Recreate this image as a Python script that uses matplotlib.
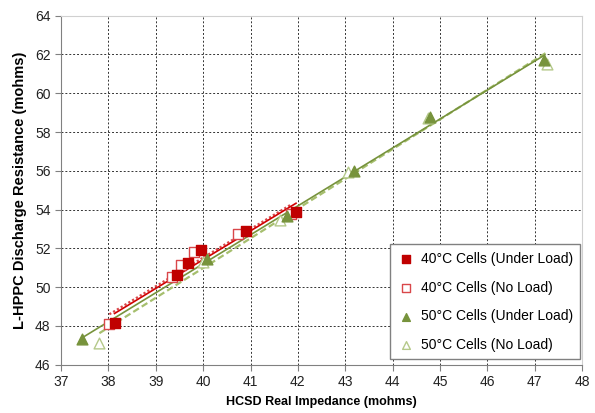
import numpy as np
import matplotlib.pyplot as plt

plt.rcParams['font.family'] = ['Liberation Sans', 'DejaVu Sans']

# 40C cells
x40_load = [38.13, 39.45, 39.68, 39.95, 40.91, 41.96]
y40_load = [48.14, 50.61, 51.23, 51.90, 52.88, 53.86]
x40_noload = [38.02, 39.35, 39.54, 39.80, 40.74, 41.86]
y40_noload = [48.09, 50.53, 51.13, 51.81, 52.76, 53.79]
# 50C cells
x50_load = [37.44, 40.08, 41.78, 43.19, 44.79, 47.20]
y50_load = [47.30, 51.44, 53.65, 55.99, 58.77, 61.70]
x50_noload = [37.81, 40.00, 41.62, 43.05, 44.74, 47.25]
y50_noload = [47.14, 51.30, 53.45, 55.94, 58.74, 61.53]

labels = ['40°C Cells (Under Load)', '40°C Cells (No Load)',
          '50°C Cells (Under Load)', '50°C Cells (No Load)']

fig = plt.figure(figsize=(5.95, 4.13), dpi=100)
ax = fig.add_axes([0.1025, 0.117, 0.876, 0.845])

def trend(x, y, **kw):
    x = np.array(x); y = np.array(y)
    m, b = np.polyfit(x, y, 1)
    xs = np.array([x.min(), x.max()])
    ax.plot(xs, m * xs + b, zorder=2, **kw)

trend(x40_noload, y40_noload, color='#D9474A', lw=1.6, ls=(0, (1, 1)))
trend(x40_load, y40_load, color='#D00000', lw=1.2)
trend(x50_noload, y50_noload, color='#A6BF6E', lw=1.6, ls=(0, (3, 1.5)))
trend(x50_load, y50_load, color='#77933C', lw=1.2)

ax.scatter(x40_noload, y40_noload, marker='s', s=55, facecolor='white',
           edgecolor='#D9474A', lw=1, label=labels[1], zorder=3)
ax.scatter(x40_load, y40_load, marker='s', s=55, color='#C00000',
           label=labels[0], zorder=4)
ax.scatter(x50_noload, y50_noload, marker='^', s=60, facecolor='white',
           edgecolor='#B5C98A', lw=1, label=labels[3], zorder=3)
ax.scatter(x50_load, y50_load, marker='^', s=60, color='#77933C',
           label=labels[2], zorder=4)

ax.set_xlim(37, 48)
ax.set_ylim(46, 64)
ax.set_xticks(np.arange(37, 49, 1))
ax.set_yticks(np.arange(46, 65, 2))
ax.grid(True, color='#333333', ls=(0, (2, 2)), lw=0.7)
ax.set_axisbelow(True)
for s in ['top', 'right']:
    ax.spines[s].set_color('#D0D0D0')
for s in ['left', 'bottom']:
    ax.spines[s].set_color('#808080')
ax.tick_params(direction='out', length=4, labelsize=10, color='#808080',
               labelcolor='#222222')

ax.set_xlabel('HCSD Real Impedance (mohms)', fontsize=9, fontweight='bold',
              labelpad=5)
ax.set_ylabel('L-HPPC Discharge Resistance (mohms)', fontsize=10.5,
              fontweight='bold', labelpad=6)

h, l = ax.get_legend_handles_labels()
order = [l.index(t) for t in labels]
leg = ax.legend([h[i] for i in order], labels, loc='lower right',
                bbox_to_anchor=(1.01, -0.005), fontsize=10, frameon=True,
                fancybox=False, edgecolor='#808080', framealpha=1,
                handletextpad=0.45, labelspacing=1.05, borderpad=0.55,
                markerscale=0.72, handlelength=1.2)
leg.get_frame().set_linewidth(1)

fig.savefig('out.png', dpi=100)
